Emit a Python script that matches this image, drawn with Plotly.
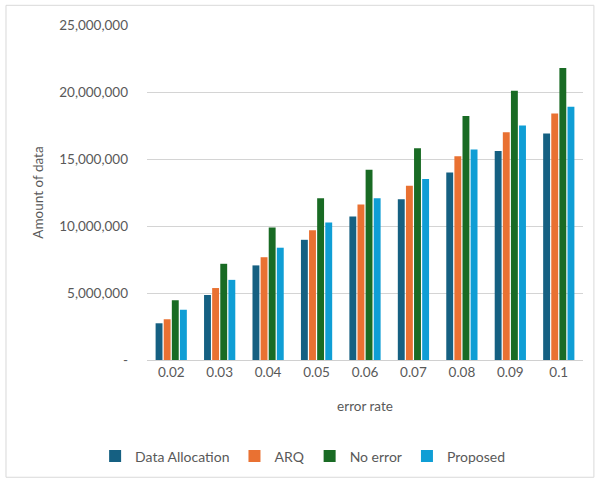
import plotly.graph_objects as go

categories = ["0.02", "0.03", "0.04", "0.05", "0.06", "0.07", "0.08", "0.09", "0.1"]
data_allocation = [2740000, 4850000, 7060000, 8970000, 10700000, 12000000, 14000000, 15600000, 16900000]
arq = [3040000, 5370000, 7670000, 9680000, 11600000, 13000000, 15200000, 17000000, 18400000]
no_error = [4460000, 7180000, 9880000, 12080000, 14200000, 15800000, 18200000, 20100000, 21800000]
proposed = [3750000, 5980000, 8380000, 10270000, 12080000, 13500000, 15700000, 17500000, 18900000]
y_ticks = [0, 5000000, 10000000, 15000000, 20000000, 25000000]
y_tick_labels = ["-", "5,000,000", "10,000,000", "15,000,000", "20,000,000", "25,000,000"]

series = [
    ("Data Allocation", data_allocation, "#156082"),
    ("ARQ", arq, "#E97132"),
    ("No error", no_error, "#196B24"),
    ("Proposed", proposed, "#0F9ED5"),
]

fig = go.Figure()
for name, vals, color in series:
    fig.add_trace(go.Bar(x=categories, y=vals, name=name, marker_color=color,
                         marker_line_width=0))

font_color = "#595959"
fig.update_layout(
    autosize=True,
    margin=dict(l=147, r=12, t=25, b=120),
    paper_bgcolor="white", plot_bgcolor="white",
    font=dict(family="Lato, Open Sans, sans-serif", size=13, color=font_color),
    barmode="group", bargap=0.33, bargroupgap=0.15,
    xaxis=dict(
        type="category", showgrid=False, showline=True, linecolor="#d0d0d0",
        ticks="", tickfont=dict(size=13.5, color=font_color),
        title=dict(text="error rate", font=dict(size=13.5, color=font_color), standoff=22),
    ),
    yaxis=dict(
        range=[0, 25000000], tickvals=y_ticks, ticktext=y_tick_labels,
        showgrid=True, gridcolor="#d4d4d4", gridwidth=1, zeroline=False,
        ticks="", ticklabelstandoff=18, tickfont=dict(size=13.5, color=font_color),
        title=dict(text="Amount of data", font=dict(size=13.5, color=font_color), standoff=12),
    ),
    legend=dict(orientation="h", x=-0.119, xanchor="left", y=-0.288, yanchor="middle",
                font=dict(size=14, color=font_color), traceorder="normal"),
    shapes=[dict(type="rect", xref="paper", yref="paper",
                 x0=-0.3234, x1=1.025, y0=-0.35, y1=1.0588,
                 line=dict(color="#d9d9d9", width=1))],
)

fig.write_html(
    "out.html", config={"displayModeBar": False, "responsive": True},
    default_width="100vw", default_height="100vh",
    post_script=(
        "document.documentElement.style.margin='0';"
        "document.documentElement.style.overflow='hidden';"
        "document.body.style.margin='0';"
        "document.body.style.overflow='hidden';"
    ),
)
